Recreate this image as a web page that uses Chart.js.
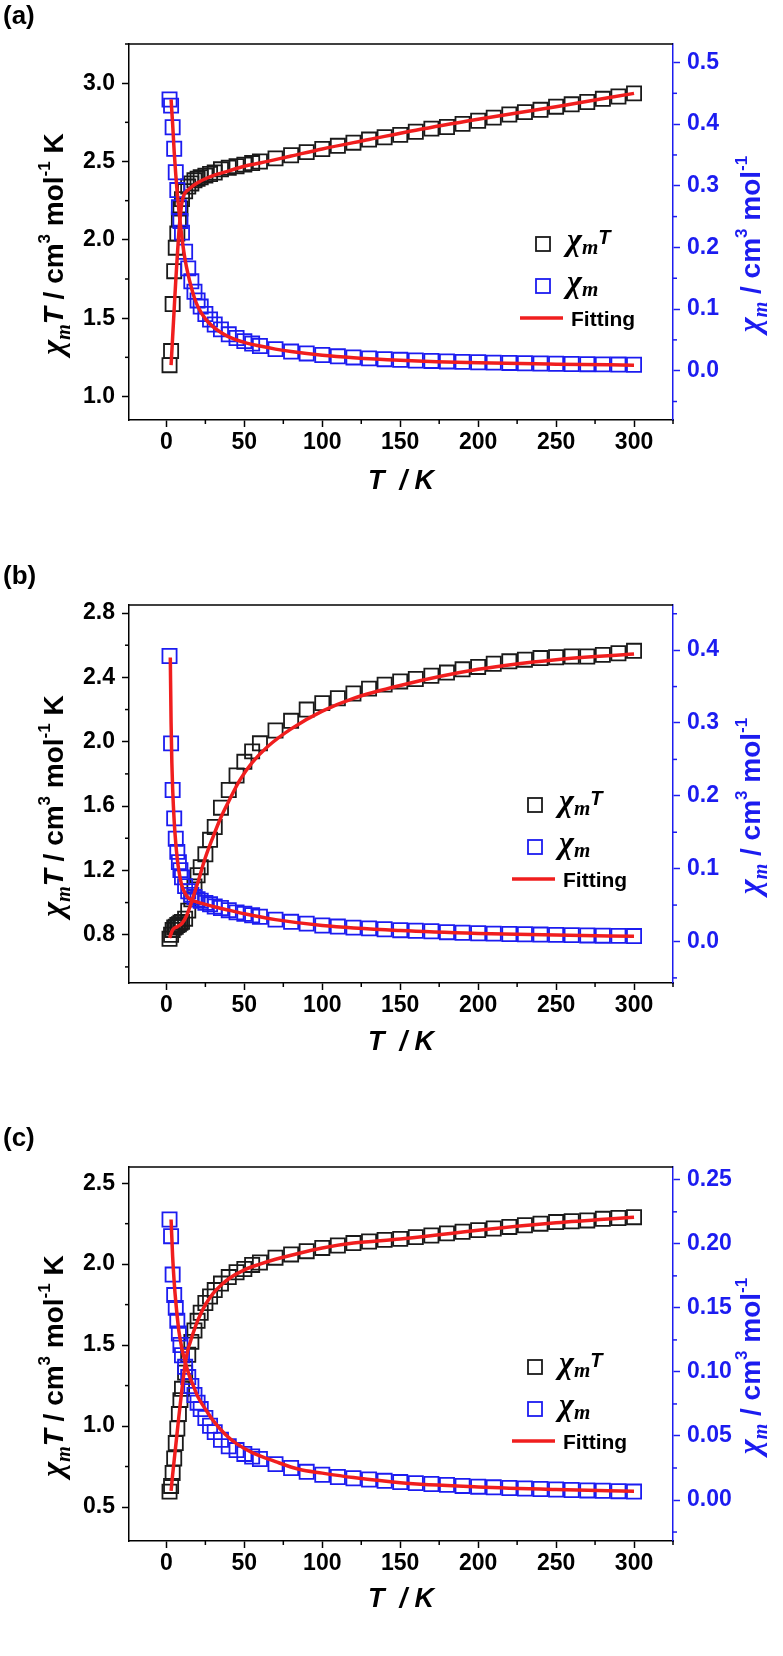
<!DOCTYPE html>
<html>
<head>
<meta charset="utf-8">
<script src="https://cdn.jsdelivr.net/npm/chart.js@4.4.1/dist/chart.umd.min.js"></script>
<style>
  body { margin: 0; background: #fff; width: 783px; height: 1656px; position: relative; overflow: hidden; }
  canvas { position: absolute; left: 0; }
  .tag { position: absolute; left: 3px; font: bold 26px "Liberation Sans", Arial, sans-serif; line-height: 1; color: #000; }
</style>
</head>
<body>
<canvas id="ca" width="783" height="552" style="top:0"></canvas>
<canvas id="cb" width="783" height="552" style="top:552px"></canvas>
<canvas id="cc" width="783" height="552" style="top:1104px"></canvas>
<div class="tag" style="top:2px">(a)</div>
<div class="tag" style="top:562px">(b)</div>
<div class="tag" style="top:1124px">(c)</div>
<script>
// temperatures of the measured points (K), same for all three samples
let tempK = [2,3,4,5,6,7,8,9,10,12,14,16,18,20,22,25,28,31,35,40,45,50,55,60,
  70,80,90,100,110,120,130,140,150,160,170,180,190,200,210,220,230,240,250,260,270,280,290,300];

let xTicks = [0, 50, 100, 150, 200, 250, 300];

// (a)
let chiTA = [1.20,1.29,1.59,1.80,1.95,2.04,2.13,2.20,2.26,2.31,2.34,2.36,2.38,2.39,2.40,
  2.41,2.42,2.43,2.45,2.46,2.47,2.48,2.49,2.50,
  2.52,2.54,2.56,2.58,2.60,2.62,2.64,2.655,2.67,2.69,2.71,2.72,2.74,2.76,2.78,2.80,2.815,2.83,2.85,2.865,2.88,2.90,2.915,2.935];
let chiA = [0.44,0.43,0.395,0.36,0.322,0.293,0.265,0.243,0.224,0.193,0.166,0.145,0.128,0.114,0.104,
  0.092,0.083,0.075,0.067,0.059,0.053,0.048,0.044,0.040,
  0.035,0.031,0.028,0.0255,0.0233,0.0215,0.02,0.0187,0.0176,0.0166,0.0158,0.015,0.0143,0.0137,0.0131,0.0126,0.0121,0.0117,0.0113,0.0109,0.0106,0.0102,0.0099,0.0096];
let fitTA_T = [3,4,5,6,7,8,9,10,11,12,14,17,20,25,30,40,50,60,80,100,130,160,200,250,300];
let fitTA = [1.20,1.38,1.56,1.74,1.90,2.05,2.16,2.24,2.28,2.30,2.32,2.345,2.365,2.39,2.41,2.44,2.47,2.49,2.535,2.58,2.64,2.70,2.77,2.85,2.935];
let fitChiA_T = [3,4,5,6,7,8,9,10,12,14,16,18,20,25,30,35,40,50,60,70,80,100,120,150,200,250,300];
let fitChiA = [0.44,0.40,0.355,0.318,0.287,0.26,0.237,0.215,0.18,0.155,0.135,0.118,0.105,0.084,0.071,0.062,0.055,0.046,0.040,0.035,0.031,0.025,0.021,0.017,0.0128,0.0105,0.009];
let yTicksA = [1.0, 1.5, 2.0, 2.5, 3.0];
let y2TicksA = [0.0, 0.1, 0.2, 0.3, 0.4, 0.5];

// (b)
let chiTB = [0.775,0.80,0.83,0.845,0.85,0.86,0.865,0.875,0.88,0.90,0.95,1.02,1.10,1.17,1.22,
  1.30,1.39,1.47,1.59,1.70,1.79,1.875,1.94,1.99,
  2.07,2.13,2.20,2.24,2.27,2.30,2.33,2.355,2.375,2.39,2.41,2.43,2.45,2.465,2.485,2.50,2.51,2.52,2.525,2.53,2.53,2.54,2.55,2.565];
let chiB = [0.392,0.272,0.208,0.169,0.141,0.123,0.109,0.098,0.088,0.076,0.069,0.064,0.061,0.058,0.056,
  0.053,0.051,0.048,0.046,0.043,0.040,0.038,0.036,0.034,
  0.030,0.027,0.0245,0.022,0.0205,0.019,0.018,0.0168,0.0155,0.0147,0.014,0.0128,0.012,0.0113,0.0108,0.0103,0.0099,0.0095,0.0091,0.0087,0.0083,0.008,0.0077,0.0074];
let fitTB_T = [2,4,7,10,13,16,20,25,30,35,40,47,55,65,80,100,120,150,200,250,300];
let fitTB = [0.78,0.83,0.85,0.87,0.92,1.00,1.12,1.28,1.41,1.53,1.63,1.76,1.87,1.97,2.08,2.19,2.27,2.35,2.45,2.51,2.545];
let fitChiB_T = [2.5,3,3.5,4,5,6,7,8,9,10,12,14,16,20,25,30,40,50,70,100,150,200,250,300];
let fitChiB = [0.39,0.30,0.245,0.21,0.165,0.135,0.113,0.097,0.085,0.076,0.066,0.060,0.057,0.054,0.051,0.048,0.043,0.038,0.030,0.022,0.015,0.011,0.0088,0.0072];
let yTicksB = [0.8, 1.2, 1.6, 2.0, 2.4, 2.8];
let y2TicksB = [0.0, 0.1, 0.2, 0.3, 0.4];

// (c)
let chiTC = [0.595,0.63,0.71,0.80,0.895,0.985,1.075,1.16,1.23,1.33,1.44,1.52,1.59,1.65,1.70,
  1.76,1.80,1.84,1.88,1.92,1.95,1.97,1.995,2.01,
  2.04,2.06,2.08,2.10,2.115,2.13,2.14,2.15,2.156,2.167,2.177,2.19,2.20,2.21,2.22,2.23,2.24,2.25,2.26,2.265,2.27,2.28,2.285,2.29];
let chiC = [0.219,0.206,0.176,0.160,0.150,0.140,0.130,0.121,0.113,0.104,0.096,0.089,0.082,0.076,0.071,
  0.064,0.058,0.053,0.047,0.042,0.039,0.036,0.034,0.032,
  0.028,0.025,0.022,0.0197,0.018,0.017,0.016,0.015,0.014,0.0132,0.0125,0.0118,0.011,0.0104,0.0099,0.0094,0.009,0.0086,0.0082,0.0078,0.0075,0.0072,0.0069,0.0066];
let fitTC_T = [3,4,6,8,10,12,14,15,17,20,25,30,35,40,50,60,70,80,100,120,150,200,250,300];
let fitTC = [0.60,0.70,0.88,1.06,1.23,1.38,1.48,1.51,1.57,1.65,1.75,1.82,1.87,1.91,1.965,2.00,2.03,2.055,2.10,2.13,2.155,2.21,2.255,2.29];
let fitChiC_T = [3,4,5,6,8,10,12,15,17,20,25,30,38,45,55,70,85,100,120,150,200,250,300];
let fitChiC = [0.219,0.19,0.17,0.155,0.132,0.118,0.108,0.096,0.09,0.081,0.071,0.062,0.051,0.044,0.037,0.030,0.024,0.021,0.0175,0.0135,0.0102,0.0082,0.0068];
let yTicksC = [0.5, 1.0, 1.5, 2.0, 2.5];
let y2TicksC = [0.00, 0.05, 0.10, 0.15, 0.20, 0.25];

const SANS = '"Liberation Sans", Arial, sans-serif';
const SERIF = '"Liberation Serif", "Times New Roman", serif';
const BLACK = '#1a1a1a';
const BLUE = '#1c1cf0';
const RED = '#f01e1e';

let pts = (xs, ys) => xs.map((x, i) => ({ x: x, y: ys[i] }));

// text with sub/superscripts: [text, font, dy]
function drawRich(ctx, parts, x, y, rot, color, centered) {
  ctx.save();
  ctx.translate(x, y);
  ctx.rotate(rot);
  ctx.fillStyle = color;
  ctx.textBaseline = 'alphabetic';
  let w = 0;
  parts.forEach(p => { ctx.font = p[1]; w += ctx.measureText(p[0]).width; });
  let cx = centered ? -w / 2 : 0;
  parts.forEach(p => {
    ctx.font = p[1];
    ctx.fillText(p[0], cx, p[2] || 0);
    cx += ctx.measureText(p[0]).width;
  });
  ctx.restore();
}

let leftTitle = [
  ['χ', 'italic bold 32px ' + SERIF, 0], ['m', 'italic bold 20px ' + SERIF, 7],
  ['T', 'italic bold 28px ' + SANS, 0], [' / cm', 'bold 28px ' + SANS, 0],
  ['3', 'bold 17px ' + SANS, -13], [' mol', 'bold 28px ' + SANS, 0],
  ['-1', 'bold 17px ' + SANS, -13], [' K', 'bold 28px ' + SANS, 0]
];
let rightTitle = [
  ['χ', 'italic bold 32px ' + SERIF, 0], ['m', 'italic bold 20px ' + SERIF, 7],
  [' / cm', 'bold 28px ' + SANS, 0], ['3', 'bold 17px ' + SANS, -13],
  [' mol', 'bold 28px ' + SANS, 0], ['-1', 'bold 17px ' + SANS, -13]
];

function minorTicks(ctx, scale, step, majors, color, side) {
  ctx.strokeStyle = color;
  ctx.lineWidth = 1.5;
  let k0 = Math.ceil(scale.min / step - 1e-6), k1 = Math.floor(scale.max / step + 1e-6);
  for (let k = k0; k <= k1; k++) {
    let v = k * step;
    if (majors.some(m => Math.abs(m - v) < step / 10)) continue;
    let p = scale.getPixelForValue(v);
    ctx.beginPath();
    if (side === 'bottom') { ctx.moveTo(p, scale.top); ctx.lineTo(p, scale.top + 4); }
    else if (side === 'left') { ctx.moveTo(scale.right, p); ctx.lineTo(scale.right - 4, p); }
    else { ctx.moveTo(scale.left, p); ctx.lineTo(scale.left + 4, p); }
    ctx.stroke();
  }
}

const decor = {
  id: 'decor',
  beforeDatasetsDraw(chart, args, o) {
    const { ctx, chartArea: a, scales } = chart;
    ctx.save();
    ctx.strokeStyle = '#000';
    ctx.lineWidth = 1.5;
    ctx.beginPath();
    ctx.moveTo(a.left, a.top);
    ctx.lineTo(a.right, a.top);
    ctx.stroke();
    minorTicks(ctx, scales.x, 25, xTicks, '#000', 'bottom');
    minorTicks(ctx, scales.y, o.yMinor, o.yTicks, '#000', 'left');
    minorTicks(ctx, scales.y2, o.y2Minor, o.y2Ticks, BLUE, 'right');
    ctx.restore();
  },
  afterDraw(chart, args, o) {
    const { ctx, chartArea: a } = chart;
    let cy = (a.top + a.bottom) / 2 + 12;
    drawRich(ctx, leftTitle, 63, cy, -Math.PI / 2, '#000', true);
    drawRich(ctx, rightTitle, 760, cy, -Math.PI / 2, BLUE, true);

    // legend
    let lx = o.legX;
    let r1 = a.top + 200, r2 = a.top + 242, r3 = a.top + 274;
    ctx.save();
    ctx.lineWidth = 1.8;
    ctx.strokeStyle = BLACK;
    ctx.strokeRect(lx - 7, r1 - 7, 14, 14);
    ctx.strokeStyle = BLUE;
    ctx.strokeRect(lx - 7, r2 - 7, 14, 14);
    ctx.strokeStyle = RED;
    ctx.lineWidth = 3.5;
    ctx.beginPath();
    ctx.moveTo(lx - 23, r3);
    ctx.lineTo(lx + 20, r3);
    ctx.stroke();
    ctx.restore();
    drawRich(ctx, [['χ', 'italic bold 32px ' + SERIF, 0], ['m', 'italic bold 21px ' + SERIF, 4],
      ['T', 'italic bold 20px ' + SANS, -6]], lx + 24, r1 + 6, 0, '#000', false);
    drawRich(ctx, [['χ', 'italic bold 32px ' + SERIF, 0], ['m', 'italic bold 21px ' + SERIF, 4]],
      lx + 24, r2 + 6, 0, '#000', false);
    drawRich(ctx, [['Fitting', 'bold 21px ' + SANS, 0]], lx + 28, r3 + 8, 0, '#000', false);
  }
};

let panels = [
  { id: 'ca', chiT: chiTA, chi: chiA, f1T: fitTA_T, f1: fitTA, f2T: fitChiA_T, f2: fitChiA,
    yTicks: yTicksA, y2Ticks: y2TicksA, yMin: 0.85, yMax: 3.25, y2Min: -0.08, y2Max: 0.53,
    yMinor: 0.25, y2Minor: 0.05, dec: 1, dec2: 1, top: 44, bottom: 420, titlePad: 54, legX: 543 },
  { id: 'cb', chiT: chiTB, chi: chiB, f1T: fitTB_T, f1: fitTB, f2T: fitChiB_T, f2: fitChiB,
    yTicks: yTicksB, y2Ticks: y2TicksB, yMin: 0.5, yMax: 2.85, y2Min: -0.057, y2Max: 0.462,
    yMinor: 0.2, y2Minor: 0.05, dec: 1, dec2: 1, top: 53, bottom: 431, titlePad: 45, legX: 535 },
  { id: 'cc', chiT: chiTC, chi: chiC, f1T: fitTC_T, f1: fitTC, f2T: fitChiC_T, f2: fitChiC,
    yTicks: yTicksC, y2Ticks: y2TicksC, yMin: 0.29, yMax: 2.6, y2Min: -0.032, y2Max: 0.26,
    yMinor: 0.25, y2Minor: 0.025, dec: 1, dec2: 2, top: 63, bottom: 437, titlePad: 40, legX: 535 }
];

let tickFont = { family: SANS, size: 23, weight: 'bold' };

panels.forEach(p => {
  new Chart(document.getElementById(p.id), {
    type: 'scatter',
    data: {
      datasets: [
        { label: 'Fitting', data: pts(p.f1T, p.f1), yAxisID: 'y', showLine: true, pointRadius: 0,
          borderColor: RED, borderWidth: 3.5, cubicInterpolationMode: 'monotone' },
        { label: 'Fitting χm', data: pts(p.f2T, p.f2), yAxisID: 'y2', showLine: true, pointRadius: 0,
          borderColor: RED, borderWidth: 3.5, cubicInterpolationMode: 'monotone' },
        { label: 'χm', data: pts(tempK, p.chi), yAxisID: 'y2', showLine: false, pointStyle: 'rect',
          pointRadius: 10, pointBorderWidth: 1.8, pointBorderColor: BLUE, pointBackgroundColor: 'rgba(0,0,0,0)',
          borderColor: BLUE, backgroundColor: 'rgba(0,0,0,0)' },
        { label: 'χmT', data: pts(tempK, p.chiT), yAxisID: 'y', showLine: false, pointStyle: 'rect',
          pointRadius: 10, pointBorderWidth: 1.8, pointBorderColor: BLACK, pointBackgroundColor: 'rgba(0,0,0,0)',
          borderColor: BLACK, backgroundColor: 'rgba(0,0,0,0)' }
      ]
    },
    options: {
      responsive: false,
      animation: false,
      events: [],
      layout: { padding: { top: p.top, left: 0, right: 0, bottom: 0 } },
      plugins: {
        legend: { display: false },
        tooltip: { enabled: false },
        decor: { yMinor: p.yMinor, y2Minor: p.y2Minor, yTicks: p.yTicks, y2Ticks: p.y2Ticks, legX: p.legX }
      },
      scales: {
        x: {
          type: 'linear', position: 'bottom', min: -24, max: 325,
          afterBuildTicks: s => { s.ticks = xTicks.map(v => ({ value: v })); },
          afterFit: s => { s.height = 552 - p.bottom; },
          ticks: { font: tickFont, color: '#000', padding: 2, autoSkip: false, maxRotation: 0, callback: v => String(v) },
          grid: { drawOnChartArea: false, tickLength: 7, tickWidth: 1.5, tickColor: '#000' },
          border: { color: '#000', width: 1.5 },
          title: { display: true, text: 'T  / K', color: '#000',
            font: { family: SANS, size: 27, weight: 'bold', style: 'italic' },
            padding: { top: 0, bottom: p.titlePad } }
        },
        y: {
          type: 'linear', position: 'left', min: p.yMin, max: p.yMax,
          afterBuildTicks: s => { s.ticks = p.yTicks.map(v => ({ value: v })); },
          afterFit: s => { s.width = 129; },
          ticks: { font: tickFont, color: '#000', padding: 7, autoSkip: false, callback: v => Number(v).toFixed(p.dec) },
          grid: { drawOnChartArea: false, tickLength: 7, tickWidth: 1.5, tickColor: '#000' },
          border: { color: '#000', width: 1.5 }
        },
        y2: {
          type: 'linear', position: 'right', min: p.y2Min, max: p.y2Max,
          afterBuildTicks: s => { s.ticks = p.y2Ticks.map(v => ({ value: v })); },
          afterFit: s => { s.width = 110; },
          ticks: { font: tickFont, color: BLUE, padding: 7, autoSkip: false, callback: v => Number(v).toFixed(p.dec2) },
          grid: { drawOnChartArea: false, tickLength: 7, tickWidth: 1.5, tickColor: BLUE },
          border: { color: BLUE, width: 1.5 }
        }
      }
    },
    plugins: [decor]
  });
});
</script>
</body>
</html>
